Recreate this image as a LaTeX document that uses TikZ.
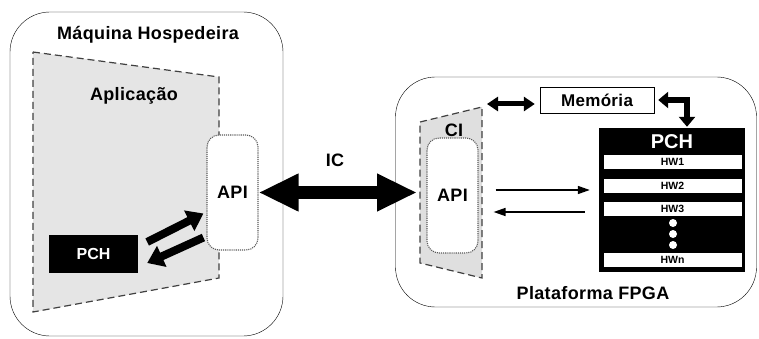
\documentclass[tikz,border=0pt]{standalone}
\usepackage{fontspec}
\setmainfont{Liberation Sans}
\newfontfamily\lblfont[LetterSpace=2]{Liberation Sans}
\usetikzlibrary{positioning, arrows.meta, calc}
\tikzset{
>=Triangle, % solid heads everywhere
line width=1.3pt,
}
\tikzstyle{machine} = [draw, rounded corners=40pt, inner sep=0pt]
\tikzstyle{lbl} = [font=\lblfont\bfseries\fontsize{18}{21}\selectfont, inner sep=1pt]
\tikzstyle{zone} = [draw=black!75, line width=1.2pt, dash pattern=on 7pt off 4pt, fill=gray!20]
\tikzstyle{api} = [draw=black!65, line width=1.1pt, densely dotted, fill=white, rounded corners=12pt,
    minimum width=51pt, minimum height=115pt, inner sep=0pt,
    font=\lblfont\bfseries\fontsize{18}{21}\selectfont]
\tikzstyle{pchblock} = [fill=black, text=white, inner sep=0pt,
    font=\bfseries\fontsize{16}{19}\selectfont]
\tikzstyle{slot} = [draw, fill=white, minimum width=139pt, minimum height=15pt,
    inner sep=0pt, font=\bfseries\fontsize{10.5}{12}\selectfont]
\tikzstyle{membox} = [draw, fill=white, minimum width=114pt, minimum height=26pt,
    inner sep=0pt, font=\lblfont\bfseries\fontsize{17}{20}\selectfont]
\tikzstyle{fat} = [line width=8pt, -{Triangle[length=16pt,width=22pt]}]
\tikzstyle{bigarrow} = [line width=13pt,
    {Triangle[length=40pt,width=35pt]}-{Triangle[length=40pt,width=35pt]}]
\tikzstyle{midarrow} = [line width=5pt,
    {Triangle[length=11pt,width=14pt]}-{Triangle[length=11pt,width=14pt]}]
\tikzstyle{larrow} = [line width=6pt,
    {Triangle[length=10pt,width=16pt]}-{Triangle[length=10pt,width=16pt]}]
\tikzstyle{signal} = [line width=1.6pt, -{Triangle[length=12pt,width=8pt]}]
\begin{document}
\begin{tikzpicture}[x=1pt, y=-1pt]
\useasboundingbox (0,0) rectangle (759,339);
% host machine
\node [machine, minimum width=273pt, minimum height=324pt] (host) at (146.5,174) {};
\node [lbl] (hosttitle) at (148,35) {Máquina Hospedeira};
\coordinate (app1) at (33,52);
\coordinate (app2) at (219,77);
\coordinate (app3) at (219,278);
\coordinate (app4) at (33,312);
\draw [zone] (app1) -- (app2) -- (app3) -- (app4) -- cycle;
\node [lbl] (app) at (134,96) {Aplicação};
\node [api] (apihost) at (232.5,192.5) {API};
\node [pchblock, minimum width=89pt, minimum height=38pt] (pchhost) at (93.5,254) {PCH};

% fpga platform
\node [machine, minimum width=361pt, minimum height=230pt] (fpga) at (576,192) {};
\node [lbl] (fpgatitle) at (593,293) {Plataforma FPGA};
\coordinate (ci1) at (420,122);
\coordinate (ci2) at (482,107);
\coordinate (ci3) at (482,278);
\coordinate (ci4) at (420,263);
\draw [zone, fill=gray!25] (ci1) -- (ci2) -- (ci3) -- (ci4) -- cycle;
\node [lbl] (ci) at (454,130) {CI};
\node [api] (apifpga) at (452.5,195.5) {API};
\node [membox] (mem) at (597,100) {Memória};
\node [pchblock, minimum width=146pt, minimum height=144pt] (pchfpga) at (672,200) {};
\node [lbl, text=white, font=\bfseries\fontsize{20}{24}\selectfont] (pchlabel) at (672,142) {PCH};
\node [slot] (hw1) at (672.5,162) {HW1};
\node [slot, below=8pt of hw1] (hw2) {HW2};
\node [slot, below=8pt of hw2] (hw3) {HW3};
\node [slot] (hwn) at (672.5,260) {HWn};
\foreach \y in {223,234,245}
  \fill [white] (673,\y) circle (4pt);

\coordinate (ciwest) at (417,192.5);
\node [lbl] (ic) at (335,160) {IC};

  \draw [fat] ($(pchhost.east)+(9,-12)$) -- ($(apihost.west)+(-3,21)$);
  \draw [fat] ($(apihost.west)+(-3,45)$) -- ($(pchhost.east)+(9,9)$);
  \draw [bigarrow] (apihost.east) -- (ciwest);
  \draw [midarrow] ($(ci2)+(5,-3)$) -- ($(mem.west)+(-5,4)$);
  \draw [larrow] ($(mem.east)+(4,0)$) -| ($(pchfpga.north)+(15,-1)$);
  \draw [signal] ($(apifpga.east)+(17,-5.5)$) -- ($(pchfpga.west)+(-9,-10)$);
  \draw [signal] ($(pchfpga.west)+(-14,12)$) -- ($(apifpga.east)+(15,16.5)$);
\end{tikzpicture}
\end{document}
